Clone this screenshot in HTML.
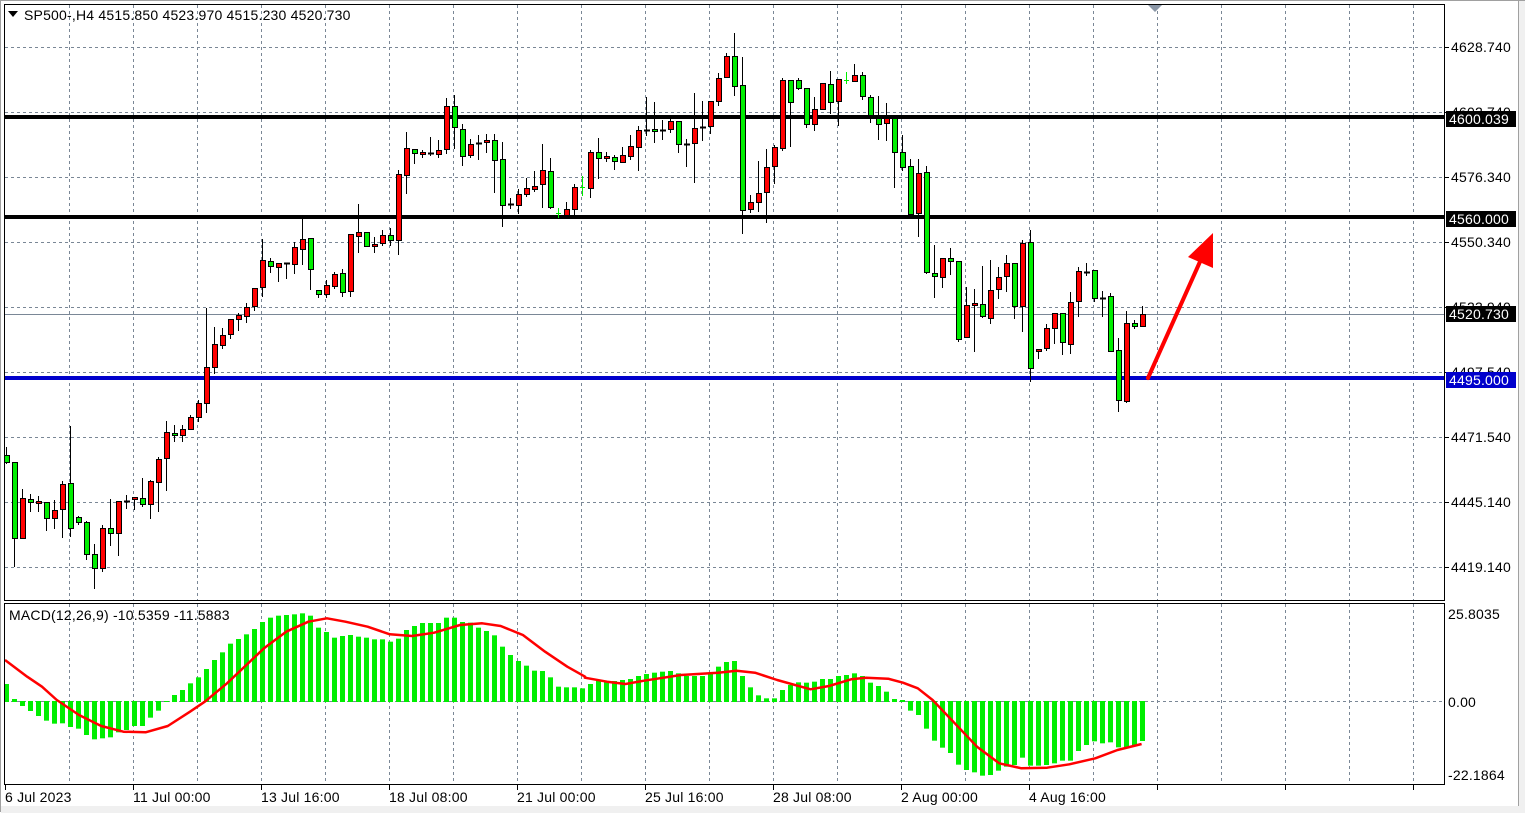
<!DOCTYPE html>
<html><head><meta charset="utf-8"><style>
html,body{margin:0;padding:0;background:#fff;width:1526px;height:813px;overflow:hidden}
svg{display:block;font-family:"Liberation Sans",sans-serif;font-size:14px;letter-spacing:0.2px}
</style></head><body>
<svg id="s" width="1526" height="813" xmlns="http://www.w3.org/2000/svg">
<rect x="0" y="0" width="1526" height="813" fill="#fff"/>
<rect x="0.5" y="0.5" width="1524" height="811" fill="none" stroke="#a0a0a0"/>
<rect x="1518" y="1" width="7" height="811" fill="#f0f0f0"/>
<line x1="1518.5" y1="0" x2="1518.5" y2="813" stroke="#a0a0a0"/>
<rect x="1" y="806" width="1524" height="7" fill="#f0f0f0"/>
<g id="grid"></g>
<g id="levels"></g>
<g id="candles"></g>
<g id="macd"></g>
<rect x="4.5" y="4.5" width="1440" height="596" fill="none" stroke="#000"/>
<rect x="4.5" y="603.5" width="1440" height="181" fill="none" stroke="#000"/>
<polygon points="8,11 18,11 13,17" fill="#000"/>
<text x="24" y="20" fill="#000">SP500-,H4  4515.850 4523.970 4515.230 4520.730</text>
<polygon points="1148,5 1162,5 1155,12" fill="#8a96a6"/>
<text x="9" y="620" fill="#000">MACD(12,26,9) -10.5359 -11.5883</text>
<g fill="#000">
<text x="1451" y="52">4628.740</text>
<text x="1451" y="117">4602.740</text>
<text x="1451" y="182">4576.340</text>
<text x="1451" y="247">4550.340</text>
<text x="1451" y="312">4523.940</text>
<text x="1451" y="377">4497.540</text>
<text x="1451" y="442">4471.540</text>
<text x="1451" y="507">4445.140</text>
<text x="1451" y="572">4419.140</text>
<text x="1448" y="619">25.8035</text>
<text x="1448" y="707">0.00</text>
<text x="1448" y="780">-22.1864</text>
</g>
<rect x="1446" y="111" width="70" height="16" fill="#000"/><text x="1449" y="124" fill="#fff">4600.039</text>
<rect x="1446" y="211" width="70" height="16" fill="#000"/><text x="1449" y="224" fill="#fff">4560.000</text>
<rect x="1446" y="306" width="70" height="16" fill="#000"/><text x="1449" y="319" fill="#fff">4520.730</text>
<rect x="1446" y="372" width="70" height="16" fill="#0000cc"/><text x="1449" y="385" fill="#fff">4495.000</text>
<g id="ticks"></g>
<g fill="#000">
<text x="5" y="802">6 Jul 2023</text>
<text x="133" y="802">11 Jul 00:00</text>
<text x="261" y="802">13 Jul 16:00</text>
<text x="389" y="802">18 Jul 08:00</text>
<text x="517" y="802">21 Jul 00:00</text>
<text x="645" y="802">25 Jul 16:00</text>
<text x="773" y="802">28 Jul 08:00</text>
<text x="901" y="802">2 Aug 00:00</text>
<text x="1029" y="802">4 Aug 16:00</text>
</g>
<line x1="1148" y1="378" x2="1203" y2="255" stroke="#ff0000" stroke-width="4" stroke-linecap="round"/>
<polygon points="1213,233 1213,268 1188,257" fill="#ff0000"/>
</svg>
<script>
var NS="http://www.w3.org/2000/svg";
function el(p,t,a){var e=document.createElementNS(NS,t);for(var k in a)e.setAttribute(k,a[k]);p.appendChild(e);return e;}
var g=document.getElementById('grid');
for(var x=69;x<1445;x+=64){
 el(g,'line',{x1:x+.5,y1:5,x2:x+.5,y2:600,stroke:'#7a8796','stroke-dasharray':'3,3'});
 el(g,'line',{x1:x+.5,y1:604,x2:x+.5,y2:784,stroke:'#7a8796','stroke-dasharray':'3,3'});
}
[47,112,177,242,307,372,437,502,567].forEach(function(y){
 el(g,'line',{x1:5,y1:y+.5,x2:1445,y2:y+.5,stroke:'#7a8796','stroke-dasharray':'3,3'});
 el(g,'line',{x1:1445,y1:y+.5,x2:1449,y2:y+.5,stroke:'#000'});
});
el(g,'line',{x1:5,y1:701.5,x2:1445,y2:701.5,stroke:'#7a8796','stroke-dasharray':'3,3'});
var tk=document.getElementById('ticks');
for(var x=5;x<1445;x+=128){el(tk,'line',{x1:x+.5,y1:785,x2:x+.5,y2:790,stroke:'#000'});}
var lv=document.getElementById('levels');
el(lv,'line',{x1:5,y1:314.5,x2:1445,y2:314.5,stroke:'#7a8796'});
el(lv,'line',{x1:5,y1:117,x2:1445,y2:117,stroke:'#000','stroke-width':4});
el(lv,'line',{x1:5,y1:217,x2:1445,y2:217,stroke:'#000','stroke-width':4});
el(lv,'line',{x1:5,y1:378,x2:1445,y2:378,stroke:'#0000cc','stroke-width':4});
var D=`g 455 462 447 463
g 462 538 462 566
r 498 538 489 538
g 499 502 494 511
r 501 503 496 511
g 502 518 502 530
r 510 518 500 528
r 484 509 481 537
g 483 528 426 536
g 517 522 516 524
g 522 554 521 559
g 554 568 544 588
r 528 568 525 571
g 528 533 499 545
r 501 533 501 555
d 501 502 495 508
r 497 499 497 509
g 498 504 478 506
r 481 504 480 518
r 459 482 457 511
r 432 458 421 490
g 433 435 425 441
r 429 435 425 441
r 417 429 415 429
r 403 417 400 421
r 367 403 308 412
r 344 367 327 373
r 335 345 328 348
r 319 334 319 338
r 315 319 313 330
r 307 316 303 322
r 288 306 288 310
r 260 287 239 296
g 261 266 258 272
r 263 267 263 281
d 263 263 263 278
r 247 264 242 273
r 239 249 218 264
g 238 269 238 289
g 290 294 290 297
r 285 294 280 297
r 274 286 272 288
g 273 292 269 296
r 234 291 234 296
r 232 236 204 252
g 232 246 232 246
r 244 246 237 252
r 235 243 230 245
g 235 240 228 245
r 174 240 170 254
r 148 175 132 193
g 149 153 149 163
r 152 154 150 157
d 153 153 137 155
r 150 154 140 157
r 106 149 98 153
g 106 127 95 148
g 129 156 124 165
r 144 155 139 157
d 143 143 135 159
r 140 142 134 152
g 140 160 134 192
g 159 205 142 226
d 204 204 198 208
r 194 205 189 213
r 188 194 178 196
r 186 189 171 191
r 170 184 144 207
g 171 207 158 208
x 213 213 208 217
r 209 215 202 215
r 187 209 184 215
x 187 187 176 195
r 152 188 150 197
g 152 158 138 178
r 156 158 152 161
g 157 161 155 169
r 155 162 147 162
r 146 156 135 159
r 130 147 126 170
d 130 130 97 135
g 129 131 102 142
d 130 130 120 139
r 121 129 119 132
g 121 144 121 152
d 144 144 139 166
r 128 143 93 182
d 127 127 101 140
r 101 126 101 133
r 78 101 73 105
r 56 77 53 77
g 56 86 33 95
g 85 210 57 233
r 202 209 195 212
r 193 202 161 211
r 167 192 149 222
r 147 166 145 183
r 80 148 78 150
g 80 102 80 146
g 80 88 78 89
g 88 124 88 127
r 109 124 97 130
r 83 109 83 109
g 84 102 71 113
r 79 101 79 125
x 80 80 72 83
r 75 81 64 81
g 75 96 72 99
g 97 115 95 122
g 118 124 96 139
r 118 123 103 140
g 118 152 118 187
g 152 167 135 170
g 166 214 159 214
r 173 213 159 236
g 172 272 166 273
g 273 276 245 297
r 258 277 258 287
g 258 261 248 274
g 261 339 261 341
r 305 337 287 337
r 303 305 289 351
g 304 316 266 317
r 290 318 260 323
r 277 289 267 298
r 263 276 255 291
g 263 306 263 318
r 243 306 240 331
g 242 368 230 381
r 349 351 349 358
r 328 348 324 350
r 313 328 313 343
g 313 342 313 354
r 302 344 292 353
r 271 301 267 316
d 272 272 263 275
g 270 298 270 301
d 298 298 291 316
g 296 351 293 351
g 350 400 338 411
r 323 401 311 402
g 323 326 320 328
r 314 326 306 326`.split('\n');
var cg=document.getElementById('candles');
D.forEach(function(l,i){
 var p=l.trim().split(/\s+/),c=p[0],bt=+p[1],bb=+p[2],wt=+p[3],wb=+p[4];
 var cx=Math.round(5.5+8*i);
 if(c=='x'){
  el(cg,'line',{x1:cx+.5,y1:wt,x2:cx+.5,y2:wb+1,stroke:'#00ee00'});
  el(cg,'line',{x1:cx-2,y1:bt+.5,x2:cx+3,y2:bt+.5,stroke:'#00ee00'});
  return;
 }
 el(cg,'line',{x1:cx+.5,y1:wt,x2:cx+.5,y2:wb+1,stroke:'#000'});
 if(c=='d'||bb-bt<1){
  el(cg,'rect',{x:cx-2,y:bt-0.5,width:6,height:2,fill:'#000'});
 }else{
  el(cg,'rect',{x:cx-1.5,y:bt+.5,width:5,height:bb-bt,fill:c=='r'?'#ff0000':'#00ee00',stroke:'#000'});
 }
});
var H=[252,297,318,333,348,362,371,370,381,386,405,418,415,412,397,390,378,378,353,332,306,285,270,250,232,207,180,157,131,117,103,87,66,53,47,45,43,40,47,83,96,113,108,105,110,113,118,118,125,116,90,78,69,69,69,53,53,66,68,83,93,106,140,165,183,197,212,213,232,260,262,262,
265,252,243,243,243,240,237,228,222,218,215,213,220,228,228,228,220,200,186,183,228,262,286,295,295,270,255,247,248,245,237,237,228,225,220,228,248,258,275,297,300,332,345,386,422,443,459,494,510,517,527,525,512,500,495,473,497,497,495,490,482,482,453,435,424,430,427,442,442,435,423];
var mg=document.getElementById('macd');
H.forEach(function(z,i){
 var y=600+z/3,cx=Math.round(5.5+8*i);
 var t=Math.min(y,701),b=Math.max(y,702);
 el(mg,'rect',{x:cx-2,y:t,width:5,height:Math.max(1,b-t),fill:'#00ee00'});
});
var S1=[[0,180],[60,230],[100,260],[140,300],[200,345],[260,378],[320,395],[380,397],[440,378],[500,335],[540,305],[600,250],[700,145],[760,95],[820,65],[870,55],[920,65],[980,80],[1040,103],[1100,108],[1160,98],[1230,75],[1290,70],[1340,78],[1400,105],[1460,155],[1520,200],[1568,230]];
var S2=[[40,233],[100,245],[150,252],[200,242],[300,225],[400,218],[450,212],[500,218],[560,240],[650,268],[700,258],[760,238],[800,233],[860,236],[900,248],[940,265],[980,300],[1040,370],[1100,440],[1160,490],[1220,505],[1290,503],[1350,493],[1420,475],[1480,450],[1545,432]];
var pts=[];
S1.forEach(function(p){pts.push((5+p[0]/2.703).toFixed(1)+','+(600+p[1]/3).toFixed(1));});
S2.forEach(function(p){pts.push((570+p[0]/2.703).toFixed(1)+','+(600+p[1]/3).toFixed(1));});
el(mg,'polyline',{points:pts.join(' '),fill:'none',stroke:'#ff0000','stroke-width':2.5,'stroke-linejoin':'round'});
</script>
</body></html>
